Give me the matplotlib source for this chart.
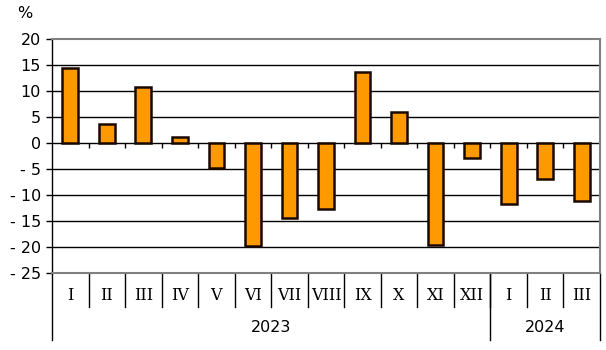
import numpy as np
import matplotlib

matplotlib.use("Agg")
import matplotlib.pyplot as plt
import matplotlib.transforms as mtransforms

# ---------------------------------------------------------------------------
# Data
# ---------------------------------------------------------------------------
months = ["I", "II", "III", "IV", "V", "VI", "VII", "VIII", "IX", "X", "XI", "XII",
          "I", "II", "III"]
values = [14.4, 3.7, 10.8, 1.2, -4.8, -19.8, -14.4, -12.7, 13.7, 6.0, -19.6, -2.9,
          -11.7, -7.0, -11.2]
years = ["2023", "2024"]
year_counts = [12, 3]
y_ticks = [20, 15, 10, 5, 0, -5, -10, -15, -20, -25]

# ---------------------------------------------------------------------------
# Figure
# ---------------------------------------------------------------------------
fig = plt.figure(figsize=(6.06, 3.5), dpi=100)
ax = fig.add_axes([52 / 606, 1 - 273 / 350, 548 / 606, 234 / 350])

x = np.arange(len(values))
ax.bar(x, values, width=0.43, color="#FF9900", edgecolor="#1a0800", linewidth=1.8, zorder=3)

ax.set_xlim(-0.5, len(values) - 0.5)
ax.set_ylim(-25, 20)
ax.set_yticks(y_ticks)
ax.set_yticklabels([str(v).replace("-", "- ") for v in y_ticks], fontsize=11.5)
ax.tick_params(axis="y", length=4, width=1, color="black", pad=4)
ax.set_xticks([])

for v in y_ticks[1:-1]:
    ax.axhline(v, color="black", linewidth=1, zorder=1)

for side in ("top", "right", "bottom"):
    ax.spines[side].set_color("#808080")
    ax.spines[side].set_linewidth(1.5)
ax.spines["left"].set_color("black")
ax.spines["left"].set_linewidth(1)

# small ticks below the zero line at category boundaries
bounds = np.arange(0.5, len(values) - 0.5)
ax.vlines(bounds, -1.0, 0, color="black", linewidth=1, zorder=2)

# category axis below the plot
trans = mtransforms.blended_transform_factory(ax.transData, ax.transAxes)
for xi, lab in zip(x, months):
    ax.text(xi, -0.098, lab, transform=trans, ha="center", va="center",
            fontsize=11.5, fontfamily="DejaVu Serif")
for b in bounds:
    ax.plot([b, b], [0, -0.145], transform=trans, color="black",
            linewidth=1, clip_on=False)

start = -0.5
edges = [start]
for yr, n in zip(years, year_counts):
    end = start + n
    ax.text((start + end) / 2, -0.235, yr, transform=trans, ha="center",
            va="center", fontsize=11.5)
    start = end
    edges.append(end)
for e in edges:
    ax.plot([e, e], [0, -0.286], transform=trans, color="black",
            linewidth=1, clip_on=False)

fig.text(25 / 606, 1 - 13 / 350, "%", ha="center", va="center", fontsize=11.5)

fig.savefig("out.png", dpi=100)
